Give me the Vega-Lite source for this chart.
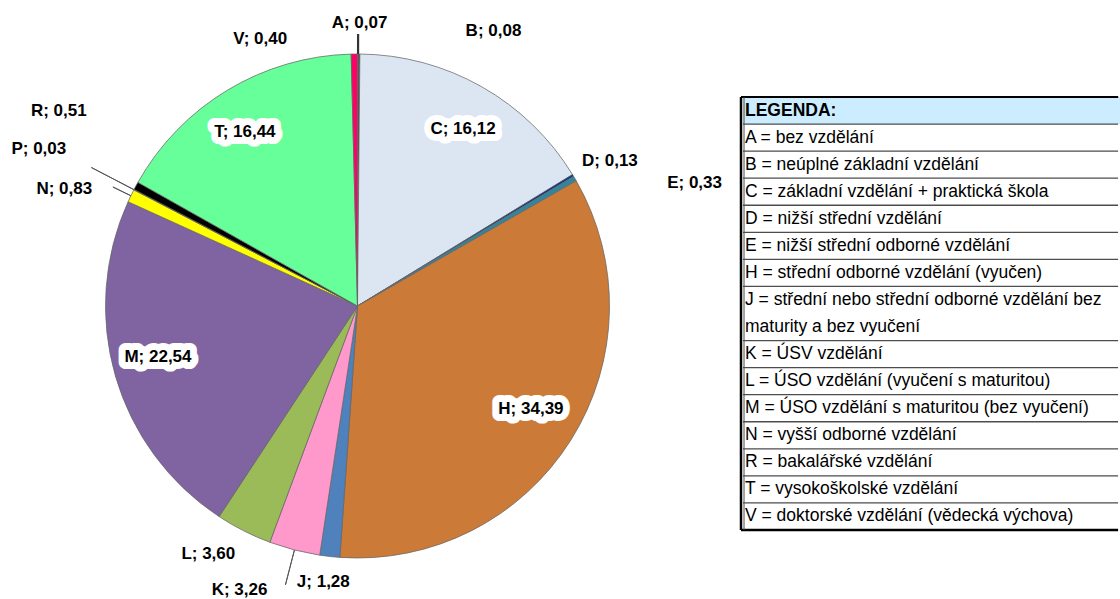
{
  "$schema": "https://vega.github.io/schema/vega-lite/v6.json",
  "padding": {"left": 0, "top": 13, "right": 0, "bottom": 0},
  "bounds": "flush",
  "spacing": 28,
  "background": "white",
  "config": {"view": {"stroke": null}, "font": "Liberation Sans", "axis": {"disable": true}},
  "datasets": {
    "slices": [
      {"k": "A", "v": 0.07, "label": "A; 0,07"},
      {"k": "B", "v": 0.08, "label": "B; 0,08"},
      {"k": "C", "v": 16.12, "label": "C; 16,12"},
      {"k": "D", "v": 0.13, "label": "D; 0,13"},
      {"k": "E", "v": 0.33, "label": "E; 0,33"},
      {"k": "H", "v": 34.39, "label": "H; 34,39"},
      {"k": "J", "v": 1.28, "label": "J; 1,28"},
      {"k": "K", "v": 3.26, "label": "K; 3,26"},
      {"k": "L", "v": 3.60, "label": "L; 3,60"},
      {"k": "M", "v": 22.54, "label": "M; 22,54"},
      {"k": "N", "v": 0.83, "label": "N; 0,83"},
      {"k": "P", "v": 0.03, "label": "P; 0,03"},
      {"k": "R", "v": 0.51, "label": "R; 0,51"},
      {"k": "T", "v": 16.44, "label": "T; 16,44"},
      {"k": "V", "v": 0.40, "label": "V; 0,40"}
    ],
    "cells": [
      {"key": "LEGENDA", "r0": 0, "r1": 1},
      {"key": "A", "r0": 1, "r1": 2},
      {"key": "B", "r0": 2, "r1": 3},
      {"key": "C", "r0": 3, "r1": 4},
      {"key": "D", "r0": 4, "r1": 5},
      {"key": "E", "r0": 5, "r1": 6},
      {"key": "H", "r0": 6, "r1": 7},
      {"key": "J", "r0": 7, "r1": 9},
      {"key": "K", "r0": 9, "r1": 10},
      {"key": "L", "r0": 10, "r1": 11},
      {"key": "M", "r0": 11, "r1": 12},
      {"key": "N", "r0": 12, "r1": 13},
      {"key": "R", "r0": 13, "r1": 14},
      {"key": "T", "r0": 14, "r1": 15},
      {"key": "V", "r0": 15, "r1": 16}
    ],
    "lines": [
      {"row": 0, "t": "LEGENDA:"},
      {"row": 1, "t": "A = bez vzdělání"},
      {"row": 2, "t": "B = neúplné základní vzdělání"},
      {"row": 3, "t": "C = základní vzdělání + praktická škola"},
      {"row": 4, "t": "D = nižší střední vzdělání"},
      {"row": 5, "t": "E = nižší střední odborné vzdělání"},
      {"row": 6, "t": "H = střední odborné vzdělání (vyučen)"},
      {"row": 7, "t": "J = střední nebo střední odborné vzdělání bez"},
      {"row": 8, "t": "maturity a bez vyučení"},
      {"row": 9, "t": "K = ÚSV vzdělání"},
      {"row": 10, "t": "L = ÚSO vzdělání (vyučení s maturitou)"},
      {"row": 11, "t": "M = ÚSO vzdělání s maturitou (bez vyučení)"},
      {"row": 12, "t": "N = vyšší odborné vzdělání"},
      {"row": 13, "t": "R = bakalářské vzdělání"},
      {"row": 14, "t": "T = vysokoškolské vzdělání"},
      {"row": 15, "t": "V = doktorské vzdělání (vědecká výchova)"}
    ]
  },
  "hconcat": [
    {
      "width": 715,
      "height": 586,
      "data": {"name": "slices"},
      "transform": [
        {"stack": "v", "groupby": [], "sort": [{"field": "k", "order": "ascending"}], "as": ["s0", "s1"]}
      ],
      "layer": [
        {
          "mark": {"type": "arc", "outerRadius": 252, "stroke": "#666666", "strokeWidth": 0.75},
          "encoding": {
            "theta": {"field": "s0", "type": "quantitative", "scale": {"domain": [0, 100.01], "zero": true, "nice": false}},
            "theta2": {"field": "s1"},
            "color": {
              "field": "k", "type": "nominal", "legend": null,
              "scale": {
                "domain": ["A", "B", "C", "D", "E", "H", "J", "K", "L", "M", "N", "P", "R", "T", "V"],
                "range": ["#17375E", "#000000", "#DCE6F2", "#0A2A8A", "#31859C", "#CC7A37", "#4F81BD", "#FF99CC", "#9BBB59", "#8064A2", "#FFFF00", "#FFC000", "#000000", "#66FF99", "#FF0066"]
              }
            }
          }
        },
        {
          "mark": {"type": "text", "radius": 203, "dx": 5.4, "dy": 0, "fontSize": 17, "fontWeight": "bold", "fill": "white", "stroke": "white", "strokeWidth": 14, "strokeJoin": "round"},
          "encoding": {"theta": {"field": "v", "type": "quantitative", "stack": true}, "detail": {"field": "k"}, "text": {"condition": {"test": "datum.k === 'C'", "field": "label"}, "value": ""}}
        },
        {
          "mark": {"type": "text", "radius": 203, "dx": 1.5, "dy": -5, "fontSize": 17, "fontWeight": "bold", "fill": "white", "stroke": "white", "strokeWidth": 14, "strokeJoin": "round"},
          "encoding": {"theta": {"field": "v", "type": "quantitative", "stack": true}, "detail": {"field": "k"}, "text": {"condition": {"test": "datum.k === 'H'", "field": "label"}, "value": ""}}
        },
        {
          "mark": {"type": "text", "radius": 203, "dx": -4.5, "dy": -5.4, "fontSize": 17, "fontWeight": "bold", "fill": "white", "stroke": "white", "strokeWidth": 14, "strokeJoin": "round"},
          "encoding": {"theta": {"field": "v", "type": "quantitative", "stack": true}, "detail": {"field": "k"}, "text": {"condition": {"test": "datum.k === 'M'", "field": "label"}, "value": ""}}
        },
        {
          "mark": {"type": "text", "radius": 203, "dx": -8, "dy": 0, "fontSize": 17, "fontWeight": "bold", "fill": "white", "stroke": "white", "strokeWidth": 14, "strokeJoin": "round"},
          "encoding": {"theta": {"field": "v", "type": "quantitative", "stack": true}, "detail": {"field": "k"}, "text": {"condition": {"test": "datum.k === 'T'", "field": "label"}, "value": ""}}
        },
        {
          "mark": {"type": "text", "radius": 203, "dx": 5.4, "dy": 0, "fontSize": 17, "fontWeight": "bold", "fill": "black"},
          "encoding": {"theta": {"field": "v", "type": "quantitative", "stack": true}, "detail": {"field": "k"}, "text": {"condition": {"test": "datum.k === 'C'", "field": "label"}, "value": ""}}
        },
        {
          "mark": {"type": "text", "radius": 203, "dx": 1.5, "dy": -5, "fontSize": 17, "fontWeight": "bold", "fill": "black"},
          "encoding": {"theta": {"field": "v", "type": "quantitative", "stack": true}, "detail": {"field": "k"}, "text": {"condition": {"test": "datum.k === 'H'", "field": "label"}, "value": ""}}
        },
        {
          "mark": {"type": "text", "radius": 203, "dx": -4.5, "dy": -5.4, "fontSize": 17, "fontWeight": "bold", "fill": "black"},
          "encoding": {"theta": {"field": "v", "type": "quantitative", "stack": true}, "detail": {"field": "k"}, "text": {"condition": {"test": "datum.k === 'M'", "field": "label"}, "value": ""}}
        },
        {
          "mark": {"type": "text", "radius": 203, "dx": -8, "dy": 0, "fontSize": 17, "fontWeight": "bold", "fill": "black"},
          "encoding": {"theta": {"field": "v", "type": "quantitative", "stack": true}, "detail": {"field": "k"}, "text": {"condition": {"test": "datum.k === 'T'", "field": "label"}, "value": ""}}
        },
        {
          "transform": [{"filter": "datum.k === 'A'"}],
          "mark": {"type": "arc", "padAngle": 3, "innerRadius": 252, "outerRadius": 272, "stroke": "#333333", "strokeWidth": 2.2, "fillOpacity": 0},
          "encoding": {"theta": {"field": "s0", "type": "quantitative"}, "theta2": {"field": "s1"}}
        },
        {
          "transform": [{"filter": "datum.k === 'K'"}],
          "mark": {"type": "arc", "padAngle": 3, "innerRadius": 252, "outerRadius": 288, "stroke": "#595959", "strokeWidth": 1, "fillOpacity": 0},
          "encoding": {"theta": {"field": "s0", "type": "quantitative"}, "theta2": {"field": "s1"}}
        },
        {
          "transform": [{"filter": "datum.k === 'N'"}],
          "mark": {"type": "arc", "padAngle": 3, "innerRadius": 252, "outerRadius": 272, "stroke": "#595959", "strokeWidth": 1, "fillOpacity": 0},
          "encoding": {"theta": {"field": "s0", "type": "quantitative"}, "theta2": {"field": "s1"}}
        },
        {
          "transform": [{"filter": "datum.k === 'P'"}],
          "mark": {"type": "arc", "padAngle": 3, "innerRadius": 252, "outerRadius": 300, "stroke": "#595959", "strokeWidth": 1, "fillOpacity": 0},
          "encoding": {"theta": {"field": "s0", "type": "quantitative"}, "theta2": {"field": "s1"}}
        },
        {
          "transform": [{"filter": "datum.k === 'A'"}],
          "mark": {"type": "text", "radius": 290, "dx": 2, "dy": 7, "fontSize": 17, "fontWeight": "bold", "fill": "black"},
          "encoding": {"theta": {"field": "s0", "type": "quantitative"}, "text": {"field": "label"}}
        },
        {
          "transform": [{"filter": "datum.k === 'B'"}],
          "mark": {"type": "text", "radius": 290, "dx": 134.7, "dy": 15, "fontSize": 17, "fontWeight": "bold", "fill": "black"},
          "encoding": {"theta": {"field": "s0", "type": "quantitative"}, "text": {"field": "label"}}
        },
        {
          "transform": [{"filter": "datum.k === 'V'"}],
          "mark": {"type": "text", "radius": 290, "dx": -90, "dy": 23, "fontSize": 17, "fontWeight": "bold", "fill": "black"},
          "encoding": {"theta": {"field": "s0", "type": "quantitative"}, "text": {"field": "label"}}
        },
        {
          "transform": [{"filter": "datum.k === 'D'"}],
          "mark": {"type": "text", "radius": 290, "dx": 5, "dy": 6, "fontSize": 17, "fontWeight": "bold", "fill": "black"},
          "encoding": {"theta": {"field": "s0", "type": "quantitative"}, "text": {"field": "label"}}
        },
        {
          "transform": [{"filter": "datum.k === 'E'"}],
          "mark": {"type": "text", "radius": 290, "dx": 88.4, "dy": 26.2, "fontSize": 17, "fontWeight": "bold", "fill": "black"},
          "encoding": {"theta": {"field": "s0", "type": "quantitative"}, "text": {"field": "label"}}
        },
        {
          "transform": [{"filter": "datum.k === 'J'"}],
          "mark": {"type": "text", "radius": 290, "dx": -13.9, "dy": -12.8, "fontSize": 17, "fontWeight": "bold", "fill": "black"},
          "encoding": {"theta": {"field": "s0", "type": "quantitative"}, "text": {"field": "label"}}
        },
        {
          "transform": [{"filter": "datum.k === 'K'"}],
          "mark": {"type": "text", "radius": 290, "dx": -74.5, "dy": -3, "fontSize": 17, "fontWeight": "bold", "fill": "black"},
          "encoding": {"theta": {"field": "s0", "type": "quantitative"}, "text": {"field": "label"}}
        },
        {
          "transform": [{"filter": "datum.k === 'L'"}],
          "mark": {"type": "text", "radius": 290, "dx": -48.3, "dy": -24.2, "fontSize": 17, "fontWeight": "bold", "fill": "black"},
          "encoding": {"theta": {"field": "s0", "type": "quantitative"}, "text": {"field": "label"}}
        },
        {
          "transform": [{"filter": "datum.k === 'N'"}],
          "mark": {"type": "text", "radius": 290, "dx": -29.2, "dy": 3.3, "fontSize": 17, "fontWeight": "bold", "fill": "black"},
          "encoding": {"theta": {"field": "s0", "type": "quantitative"}, "text": {"field": "label"}}
        },
        {
          "transform": [{"filter": "datum.k === 'P'"}],
          "mark": {"type": "text", "radius": 290, "dx": -61.3, "dy": -23.1, "fontSize": 17, "fontWeight": "bold", "fill": "black"},
          "encoding": {"theta": {"field": "s0", "type": "quantitative"}, "text": {"field": "label"}}
        },
        {
          "transform": [{"filter": "datum.k === 'R'"}],
          "mark": {"type": "text", "radius": 290, "dx": -41.6, "dy": -61.3, "fontSize": 17, "fontWeight": "bold", "fill": "black"},
          "encoding": {"theta": {"field": "s0", "type": "quantitative"}, "text": {"field": "label"}}
        }
      ]
    },
    {
      "width": 377,
      "height": 586,
      "layer": [
        {
          "data": {"name": "cells"},
          "transform": [{"filter": "datum.key === 'LEGENDA'"}],
          "mark": {"type": "rect", "fill": "#CCECFF"},
          "encoding": {
            "x": {"datum": 0, "type": "quantitative", "scale": {"domain": [0, 1], "nice": false, "zero": false}, "axis": null},
            "x2": {"datum": 1},
            "y": {"field": "r0", "type": "quantitative", "scale": {"domain": [-3.104, 18.55], "reverse": true, "nice": false, "zero": false}, "axis": null},
            "y2": {"field": "r1"}
          }
        },
        {
          "data": {"name": "cells"},
          "mark": {"type": "rule", "stroke": "#4d4d4d", "strokeWidth": 1.3},
          "encoding": {
            "x": {"datum": 0, "type": "quantitative"},
            "x2": {"datum": 0.995},
            "y": {"field": "r0", "type": "quantitative"}
          }
        },
        {
          "data": {"name": "cells"},
          "transform": [{"filter": "datum.key === 'LEGENDA'"}],
          "mark": {"type": "rule", "stroke": "#000000", "strokeWidth": 2},
          "encoding": {
            "x": {"datum": -0.0053, "type": "quantitative"},
            "x2": {"datum": 0.995},
            "y": {"field": "r0", "type": "quantitative"}
          }
        },
        {
          "data": {"name": "cells"},
          "transform": [{"filter": "datum.key === 'V'"}],
          "mark": {"type": "rule", "stroke": "#000000", "strokeWidth": 2.5},
          "encoding": {
            "x": {"datum": -0.0053, "type": "quantitative"},
            "x2": {"datum": 0.995},
            "y": {"field": "r1", "type": "quantitative"}
          }
        },
        {
          "data": {"name": "cells"},
          "transform": [{"filter": "datum.key === 'LEGENDA'"}],
          "mark": {"type": "rule", "stroke": "#000000", "strokeWidth": 2.5},
          "encoding": {
            "x": {"datum": -0.0053, "type": "quantitative"},
            "y": {"datum": 0, "type": "quantitative"},
            "y2": {"datum": 16}
          }
        },
        {
          "data": {"name": "cells"},
          "transform": [{"filter": "datum.key === 'LEGENDA'"}],
          "mark": {"type": "rule", "stroke": "#4d4d4d", "strokeWidth": 1},
          "encoding": {
            "x": {"datum": 0.0027, "type": "quantitative"},
            "y": {"datum": 0, "type": "quantitative"},
            "y2": {"datum": 16}
          }
        },
        {
          "data": {"name": "lines"},
          "transform": [{"filter": "datum.row > 0"}],
          "mark": {"type": "text", "align": "left", "baseline": "middle", "dy": 13.5, "fontSize": 17.5, "fill": "#000000"},
          "encoding": {
            "x": {"datum": 0.0053, "type": "quantitative"},
            "y": {"field": "row", "type": "quantitative"},
            "text": {"field": "t"}
          }
        },
        {
          "data": {"name": "lines"},
          "transform": [{"filter": "datum.row === 0"}],
          "mark": {"type": "text", "align": "left", "baseline": "middle", "dy": 13.5, "fontSize": 17.5, "fontWeight": "bold", "fill": "#000000"},
          "encoding": {
            "x": {"datum": 0.0053, "type": "quantitative"},
            "y": {"field": "row", "type": "quantitative"},
            "text": {"field": "t"}
          }
        }
      ]
    }
  ]
}
